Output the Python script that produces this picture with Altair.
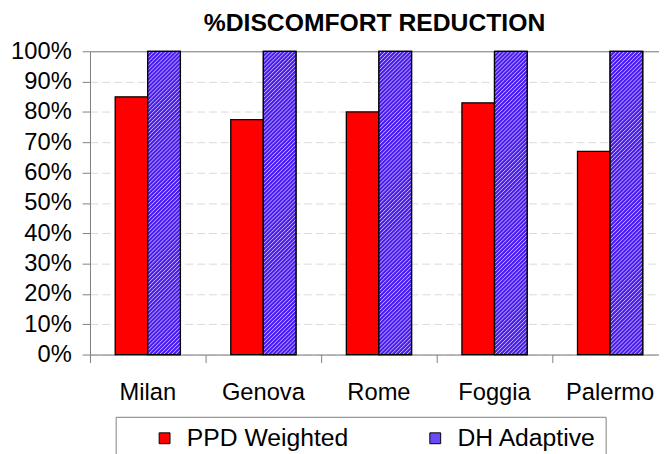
import altair as alt
import pandas as pd

# ---- data ----
cities = ["Milan", "Genova", "Rome", "Foggia", "Palermo"]
series = ["PPD Weighted", "DH Adaptive"]
ppd_weighted = [0.85, 0.775, 0.80, 0.83, 0.67]
dh_adaptive = [1.0, 1.0, 1.0, 1.0, 1.0]
y_ticks = [i / 10 for i in range(11)]

rows = []
for c, a, b in zip(cities, ppd_weighted, dh_adaptive):
    rows.append({"city": c, "series": series[0], "value": a})
    rows.append({"city": c, "series": series[1], "value": b})
df = pd.DataFrame(rows)

FONT = "Liberation Sans"
RED = "#FF0000"
BLUE = "#4A1CF0"
STRIPE = "#C0B0FF"
LEGEND_BLUE = "#6A4AF4"
GRAY = "#808080"

# diagonal stripe fill (hatching) built as a linear gradient with many stops
bar_w, bar_h = 33.0, 307.0
gy = 1.1
gx = gy * bar_w / bar_h
span = bar_h * (gx * gx + gy * gy) / gy  # pixel (x+y) span of t in [0,1]
period = 4.0 / span
stops = []
t = 0.0
while t < 1.0:
    stops += [
        {"offset": round(t, 5), "color": BLUE},
        {"offset": round(min(1.0, t + 0.45 * period), 5), "color": BLUE},
        {"offset": round(min(1.0, t + 0.72 * period), 5), "color": STRIPE},
    ]
    t += period
stops.append({"offset": 1.0, "color": BLUE})
hatch = {"gradient": "linear", "x1": 0, "y1": 0, "x2": gx, "y2": gy, "stops": stops}

x_enc = alt.X(
    "city:N",
    sort=cities,
    scale=alt.Scale(domain=cities, range=[0, 585], paddingInner=0, paddingOuter=0),
    axis=alt.Axis(
        title=None,
        bandPosition=0,
        labelAngle=0,
        labelFont=FONT,
        labelFontSize=24,
        labelColor="black",
        labelBaseline="alphabetic",
        labelPadding=38,
        tickSize=8,
        tickColor=GRAY,
        domainColor=GRAY,
        grid=False,
    ),
)
xo_enc = alt.XOffset(
    "series:N",
    sort=series,
    scale=alt.Scale(domain=series, paddingInner=0, paddingOuter=0.7727),
)
y_enc = alt.Y(
    "value:Q",
    scale=alt.Scale(domain=[0, 1], nice=False),
    axis=alt.Axis(
        title=None,
        format=".0%",
        values=y_ticks,
        labelFont=FONT,
        labelFontSize=24,
        labelColor="black",
        labelPadding=11,
        tickSize=8,
        tickColor=GRAY,
        domainColor=GRAY,
        grid=True,
        gridColor={"condition": {"test": "datum.value === 1", "value": GRAY}, "value": "#d9d9d9"},
        gridDash={"condition": {"test": "datum.value === 1", "value": []}, "value": [8, 4]},
    ),
)

base = alt.Chart(df).encode(x=x_enc, xOffset=xo_enc, y=y_enc)

bars = base.mark_bar(stroke="black", strokeWidth=1.3).encode(
    fill=alt.Fill(
        "series:N",
        sort=series,
        scale=alt.Scale(domain=series, range=[RED, LEGEND_BLUE]),
        legend=alt.Legend(
            title=None,
            orient="none",
            legendX=26,
            legendY=370,
            direction="horizontal",
            columns=2,
            gridAlign="all",
            symbolType="square",
            symbolSize=121,
            symbolStrokeColor="black",
            symbolStrokeWidth=1,
            labelFont=FONT,
            labelFontSize=25,
            labelColor="black",
            labelLimit=400,
            labelOffset=10,
            symbolOffset=28,
            columnPadding=47,
            padding=9,
            strokeColor=GRAY,
        ),
    )
)

hatched = base.transform_filter(alt.datum.series == "DH Adaptive").mark_bar(
    stroke="black", strokeWidth=1.3, fill=hatch
)

chart = (
    alt.layer(bars, hatched)
    .properties(
        width=576,
        height=307,
        autosize=alt.AutoSizeParams(type="none"),
        padding={"left": 83, "top": 41, "right": 0, "bottom": 110},
        title=alt.TitleParams(
            text="%DISCOMFORT REDUCTION",
            font=FONT,
            fontSize=25,
            fontWeight="bold",
            color="black",
            anchor="middle",
            offset=4,
        ),
    )
    .configure_view(stroke=None)
    .configure(background="white")
)

chart.save("out.html", embed_options={"renderer": "svg", "actions": False})
